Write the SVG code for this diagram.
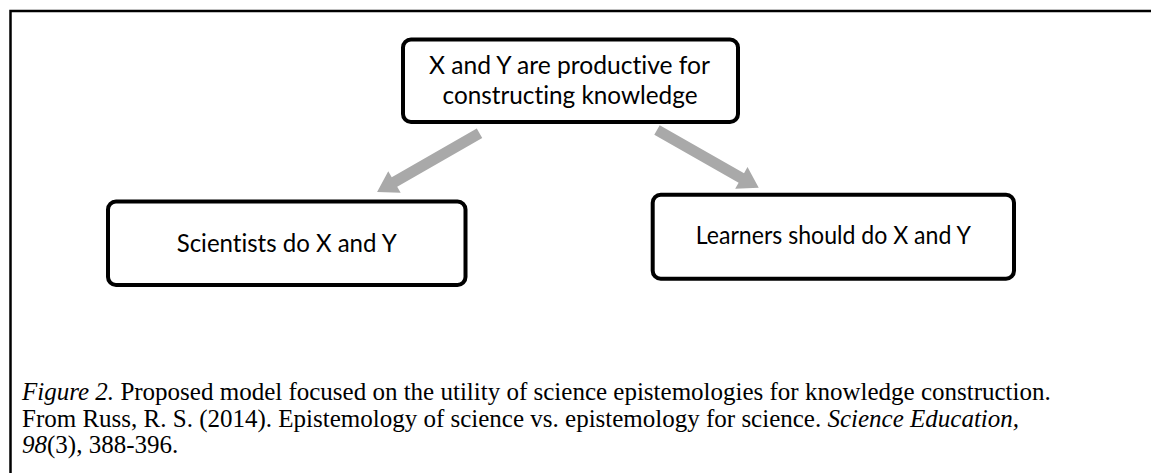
<svg xmlns="http://www.w3.org/2000/svg" width="1151" height="473" viewBox="0 0 1151 473">
<style>
.box{fill:#fff;stroke:#000;stroke-width:4}
.lbl{font-family:Lato,"Open Sans","Liberation Sans",sans-serif;font-size:24.5px;fill:#000;text-anchor:middle;font-variant-ligatures:none;font-feature-settings:"liga" 0,"clig" 0,"dlig" 0}
.cap{font-family:"Liberation Serif","Times New Roman",serif;font-size:25px;fill:#000}
.arr{fill:#a9a9a9}
</style>
<rect width="1151" height="473" fill="#fff"/>
<path d="M10.5,473 V11 H1151" fill="none" stroke="#000" stroke-width="2.5"/>
<g id="connectors">
<polygon class="arr" transform="translate(479.5,133.3) rotate(150.2)" points="0,-5.5 98,-5.5 98,-12.5 118,0 98,12.5 98,5.5 0,5.5"/>
<polygon class="arr" transform="translate(657,130) rotate(29.6)" points="0,-5.5 97,-5.5 97,-12.5 117,0 97,12.5 97,5.5 0,5.5"/>
</g>
<g id="node-top">
<rect class="box" x="403" y="39.5" width="335" height="82.5" rx="8"/>
<text class="lbl" x="569.5" y="74" textLength="281" lengthAdjust="spacingAndGlyphs">X and Y are productive for</text>
<text class="lbl" x="570" y="103.5" textLength="255" lengthAdjust="spacingAndGlyphs">constructing knowledge</text>
</g>
<g id="node-scientists">
<rect class="box" x="108" y="201.5" width="357.5" height="83.5" rx="8"/>
<text class="lbl" x="286.7" y="251.7" textLength="220" lengthAdjust="spacingAndGlyphs">Scientists do X and Y</text>
</g>
<g id="node-learners">
<rect class="box" x="652.7" y="194.7" width="361.3" height="84" rx="8"/>
<text class="lbl" x="833.3" y="244" textLength="275" lengthAdjust="spacingAndGlyphs">Learners should do X and Y</text>
</g>
<g id="caption">
<text class="cap" x="22" y="399.5"><tspan font-style="italic">Figure 2.</tspan> Proposed model focused on the utility of science epistemologies for knowledge construction.</text>
<text class="cap" x="22" y="426.5">From Russ, R. S. (2014). Epistemology of science vs. epistemology for science. <tspan font-style="italic">Science Education,</tspan></text>
<text class="cap" x="22" y="453.3"><tspan font-style="italic">98</tspan>(3), 388-396.</text>
</g>
</svg>
